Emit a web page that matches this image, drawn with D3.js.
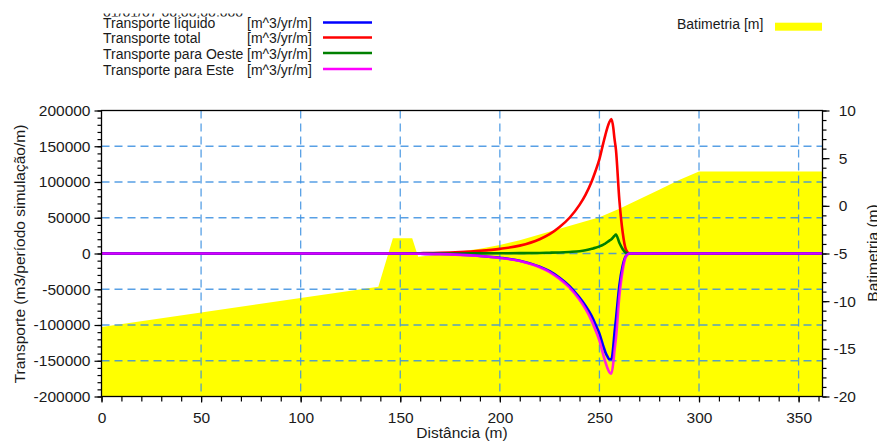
<!DOCTYPE html>
<html>
<head>
<meta charset="utf-8">
<script src="https://cdn.jsdelivr.net/npm/d3@7"></script>
<style>
  body { margin: 0; background: #fff; }
  svg { display: block; font-family: "Liberation Sans", Arial, sans-serif; }
</style>
</head>
<body>
<div id="chart"></div>
<script>
// distance along profile (m) for the transport series
const distancia = [0, 140, 150, 160, 170, 180, 190, 200, 210, 220, 225, 230, 235, 240, 243, 246, 248, 250,
    252, 253, 254, 255, 256, 257, 257.5, 258.3, 260, 261.7, 263.3, 265, 270, 362];

const transporteLiquido = [0, 0, -100, -400, -800, -1800, -3400, -5900, -10000, -18400, -24800, -34000, -45600,
    -61600, -73000, -87000, -99000, -112000, -130000, -138000, -144000, -148000, -148000, -129000, -113000,
    -92000, -45000, -17000, -3500, 0, 0, 0];

const transporteTotal = [0, 0, 100, 400, 900, 2000, 3800, 6500, 11000, 20000, 27000, 37000, 50000, 68000, 82000,
    100000, 115000, 132000, 155000, 166000, 176000, 184000, 188000, 175000, 162000, 145000, 75000, 29000,
    5500, 0, 0, 0];

const transporteOeste = [0, 0, 0, 0, 50, 100, 200, 300, 500, 800, 1100, 1500, 2200, 3200, 4500, 6500, 8000,
    10000, 12500, 14000, 16000, 18000, 20000, 23000, 24500, 26500, 15000, 6000, 1000, 0, 0, 0];

const transporteEste = [0, 0, -100, -400, -850, -1900, -3600, -6200, -10500, -19200, -25900, -35500, -47800,
    -64800, -77500, -93500, -107000, -122000, -142500, -152000, -160000, -166000, -168000, -152000, -137500,
    -118500, -60000, -23000, -4500, 0, 0, 0];

// bathymetry profile (m)
const batDist = [0, 139, 146.3, 156, 159, 170, 180, 190, 200, 210, 220, 230, 240, 250, 260, 270, 280, 290, 300, 362];
const batimetria = [-12.7, -8.5, -3.4, -3.4, -5.35, -5.1, -4.8, -4.5, -4.1, -3.6, -3.0, -2.4, -1.8, -1.2,
    -0.3, 0.7, 1.7, 2.7, 3.6, 3.6];

const xTicks = [0, 50, 100, 150, 200, 250, 300, 350];
const yLeftTicks = [-200000, -150000, -100000, -50000, 0, 50000, 100000, 150000, 200000];
const yRightTicks = [-20, -15, -10, -5, 0, 5, 10];

const legendNames = ["Transporte líquido", "Transporte total", "Transporte para Oeste", "Transporte para Este"];
const legendUnits = "[m^3/yr/m]";

var ChartModule = (() => {

    const width = 877, height = 441;
    const plot = { left: 101.5, right: 822.5, top: 110.5, bottom: 396.5 };

    const xScale = d3.scaleLinear().domain([0, 362]).range([plot.left, plot.right]);
    const yLeft = d3.scaleLinear().domain([-200000, 200000]).range([plot.bottom, plot.top]);
    const yRight = d3.scaleLinear().domain([-20, 10]).range([plot.bottom, plot.top]);

    const series = [
        { name: legendNames[0], values: transporteLiquido, color: "#0000ff", opacity: 1 },
        { name: legendNames[1], values: transporteTotal, color: "#ff0000", opacity: 1 },
        { name: legendNames[2], values: transporteOeste, color: "#008000", opacity: 1 },
        { name: legendNames[3], values: transporteEste, color: "#ff00ff", opacity: 0.85 }
    ];

    const svg = d3.select("#chart")
        .append("svg")
        .attr("width", width)
        .attr("height", height);

    // bathymetry fill
    const batData = batDist.map((d, i) => ({ x: d, y: batimetria[i] }));
    svg.append("path")
        .datum(batData)
        .attr("fill", "#ffff00")
        .attr("d", d3.area()
            .x(d => xScale(d.x))
            .y0(yRight(-20))
            .y1(d => yRight(d.y)));

    // grid
    const grid = svg.append("g")
        .attr("stroke", "#3b8fe0")
        .attr("stroke-opacity", 0.85)
        .attr("stroke-width", 1.3)
        .attr("stroke-dasharray", "8,5");

    grid.selectAll("line.v")
        .data(xTicks.filter(d => d > 0))
        .join("line")
        .attr("class", "v")
        .attr("x1", d => xScale(d)).attr("x2", d => xScale(d))
        .attr("y1", plot.top).attr("y2", plot.bottom);

    grid.selectAll("line.h")
        .data(yLeftTicks.filter(d => d > -200000 && d < 200000))
        .join("line")
        .attr("class", "h")
        .attr("x1", plot.left).attr("x2", plot.right)
        .attr("y1", d => yLeft(d)).attr("y2", d => yLeft(d));

    // transport lines
    const line = d3.line()
        .x(d => xScale(d[0]))
        .y(d => yLeft(d[1]))
        .curve(d3.curveMonotoneX);

    const drawOrder = [1, 2, 0, 3];
    drawOrder.forEach(i => {
        const s = series[i];
        svg.append("path")
            .datum(distancia.map((d, j) => [d, s.values[j]]))
            .attr("fill", "none")
            .attr("stroke", s.color)
            .attr("stroke-opacity", s.opacity)
            .attr("stroke-width", 2.6)
            .attr("stroke-linejoin", "round")
            .attr("d", line);
    });

    // frame
    svg.append("rect")
        .attr("x", plot.left).attr("y", plot.top)
        .attr("width", plot.right - plot.left)
        .attr("height", plot.bottom - plot.top)
        .attr("fill", "none")
        .attr("stroke", "#000")
        .attr("stroke-width", 1.3);

    const fontSize = "15.5px";

    function styleAxis(g) {
        g.select(".domain").remove();
        g.selectAll(".tick line").attr("stroke", "#000").attr("stroke-width", 1.2);
        g.selectAll(".tick text").attr("fill", "#1a1a1a").attr("font-size", fontSize)
            .attr("font-family", "'Liberation Sans', Arial, sans-serif");
    }

    // left axis
    svg.append("g")
        .attr("transform", `translate(${plot.left},0)`)
        .call(d3.axisLeft(yLeft).tickValues(d3.range(-200000, 200001, 10000)).tickSize(4).tickFormat(""))
        .call(styleAxis);
    svg.append("g")
        .attr("transform", `translate(${plot.left},0)`)
        .call(d3.axisLeft(yLeft).tickValues(yLeftTicks).tickSize(7).tickPadding(4).tickFormat(d => String(d)))
        .call(styleAxis);

    // bottom axis
    svg.append("g")
        .attr("transform", `translate(0,${plot.bottom})`)
        .call(d3.axisBottom(xScale).tickValues(d3.range(0, 361, 10)).tickSize(5).tickFormat(""))
        .call(styleAxis);
    svg.append("g")
        .attr("transform", `translate(0,${plot.bottom})`)
        .call(d3.axisBottom(xScale).tickValues(xTicks).tickSize(6).tickPadding(9).tickFormat(d => String(d)))
        .call(styleAxis);

    // right axis
    svg.append("g")
        .attr("transform", `translate(${plot.right},0)`)
        .call(d3.axisRight(yRight).tickValues(d3.range(-20, 11, 1)).tickSize(4).tickFormat(""))
        .call(styleAxis);
    svg.append("g")
        .attr("transform", `translate(${plot.right},0)`)
        .call(d3.axisRight(yRight).tickValues(yRightTicks).tickSize(7).tickPadding(4).tickFormat(d => String(d)))
        .call(styleAxis)
        .call(g => g.selectAll(".tick text").attr("dx", d => d >= 0 ? 5.2 : 0));

    // axis titles
    svg.append("text")
        .attr("transform", "translate(24.5,254) rotate(-90)")
        .attr("text-anchor", "middle")
        .attr("font-size", fontSize)
        .attr("fill", "#1a1a1a")
        .text("Transporte (m3/período simulação/m)");

    svg.append("text")
        .attr("transform", "translate(878,253) rotate(-90)")
        .attr("text-anchor", "middle")
        .attr("font-size", fontSize)
        .attr("fill", "#1a1a1a")
        .text("Batimetria (m)");

    svg.append("text")
        .attr("x", 462).attr("y", 438)
        .attr("text-anchor", "middle")
        .attr("font-size", fontSize)
        .attr("fill", "#1a1a1a")
        .text("Distância (m)");

    // half hidden date line above the legend
    svg.append("clipPath").attr("id", "dateClip")
        .append("rect").attr("x", 95).attr("y", 13.5).attr("width", 200).attr("height", 3);
    svg.append("text")
        .attr("clip-path", "url(#dateClip)")
        .attr("x", 103).attr("y", 16.5)
        .attr("font-size", "14px")
        .attr("fill", "#1a1a1a")
        .text("01/01/07 00:00:00.000");

    // legend (left)
    const rowY = [23, 38, 53.5, 69.5];
    const legend = svg.append("g").attr("font-size", "14px").attr("fill", "#1a1a1a");
    series.forEach((s, i) => {
        legend.append("text").attr("x", 103).attr("y", rowY[i] + 5).text(s.name);
        legend.append("text").attr("x", 247).attr("y", rowY[i] + 5).text(legendUnits);
        legend.append("line")
            .attr("x1", 323).attr("x2", 372)
            .attr("y1", rowY[i] - 0.5).attr("y2", rowY[i] - 0.5)
            .attr("stroke", s.color)
            .attr("stroke-width", 2.6);
    });

    // legend (right)
    svg.append("text")
        .attr("x", 677).attr("y", 28.5)
        .attr("font-size", "14px")
        .attr("fill", "#1a1a1a")
        .text("Batimetria [m]");
    svg.append("rect")
        .attr("x", 775).attr("y", 22.7)
        .attr("width", 47).attr("height", 8)
        .attr("fill", "#ffff00");

})();
</script>
</body>
</html>
